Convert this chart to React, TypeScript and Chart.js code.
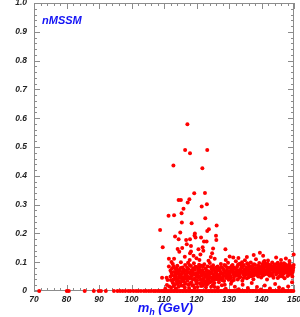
import React, { useEffect, useRef } from "react";
import { Chart, registerables } from "chart.js";

Chart.register(...registerables);

// Axis ranges and tick steps
const xRange: [number, number] = [70, 150];
const yRange: [number, number] = [0, 1];
const xMajorStep = 10;
const xMinorStep = 2;
const yMajorStep = 0.1;
const yMinorStep = 0.02;

const xTitleMain = "m";
const xTitleSub = "h";
const xTitleRest = " (GeV)";
const modelLabel = "nMSSM";

// Higgs masses of points that sit on the zero line
const zeroLineMass: number[] = [
  71.6, 80.1, 80.7, 85.6, 88.4, 89.9, 90.6, 92.1, 94.6, 95.7, 96.5, 97.3, 98.1, 99.0,
  99.7, 100.6, 101.4, 102.1, 102.9, 103.8, 104.5, 105.3, 106.0, 106.8, 107.4, 108.1,
  108.7, 109.3, 109.8, 110.2, 110.6, 111.1, 111.5, 112.0, 112.4, 112.9, 113.3, 113.8,
  114.2, 114.7, 115.1, 115.6, 116.0, 116.5, 116.9, 117.4, 117.8, 118.3, 118.7, 119.2,
  119.6, 120.1, 120.5, 121.0, 121.4, 121.9, 122.3, 122.8, 123.2, 123.7, 124.1, 124.6,
  125.0, 125.5, 125.9, 126.4, 126.8, 127.3, 127.7, 128.2, 128.6, 129.1, 129.5, 130.0,
  130.4, 130.9, 131.3, 131.8, 132.2, 132.7, 133.1, 133.6, 134.0, 134.5, 134.9, 135.4,
  135.8, 136.3, 136.7, 137.2, 137.6, 138.1, 138.5, 139.0, 139.4, 139.9, 140.3, 140.8,
  141.2, 141.7, 142.1, 142.6, 143.0, 143.5, 143.9, 144.4, 144.8, 145.3, 145.7, 146.2,
  146.6, 147.1, 147.5, 148.0, 148.4, 148.9, 149.3, 149.8,
];

// Dense cluster, light Higgs (m_h 110-126)
const lightCluster: [number, number][] = [
  [110.9, 0.021], [111.5, 0.085], [110.4, 0.008], [111.1, 0.038], [111.6, 0.016],
  [112.0, 0.071], [112.2, 0.012], [112.4, 0.055], [112.7, 0.094], [112.9, 0.040],
  [113.1, 0.066], [113.3, 0.022], [113.5, 0.078], [113.7, 0.050], [113.9, 0.033],
  [114.1, 0.088], [114.3, 0.060], [114.5, 0.015], [114.6, 0.045], [114.8, 0.072],
  [115.0, 0.028], [115.2, 0.100], [115.4, 0.058], [115.5, 0.038], [115.7, 0.082],
  [115.9, 0.018], [116.1, 0.064], [116.3, 0.047], [116.5, 0.090], [116.6, 0.025],
  [116.8, 0.070], [117.0, 0.053], [117.2, 0.036], [117.4, 0.098], [117.5, 0.076],
  [117.7, 0.010], [117.9, 0.044], [118.1, 0.061], [118.3, 0.087], [118.4, 0.030],
  [118.6, 0.052], [118.8, 0.068], [119.0, 0.020], [119.2, 0.096], [119.3, 0.041],
  [119.5, 0.074], [119.7, 0.057], [119.9, 0.033], [120.1, 0.083], [120.3, 0.014],
  [120.4, 0.063], [120.6, 0.048], [120.8, 0.091], [121.0, 0.027], [121.2, 0.071],
  [121.3, 0.039], [121.5, 0.088], [121.7, 0.055], [121.9, 0.018], [122.1, 0.066],
  [122.3, 0.045], [122.4, 0.093], [122.6, 0.031], [122.8, 0.078], [123.0, 0.058],
  [123.2, 0.022], [123.4, 0.085], [123.5, 0.049], [123.7, 0.069], [123.9, 0.036],
  [124.1, 0.097], [124.3, 0.060], [124.5, 0.015], [124.7, 0.075], [124.9, 0.043],
  [125.1, 0.089], [125.3, 0.052], [125.5, 0.028], [125.7, 0.067], [125.9, 0.081],
  [112.1, 0.038], [112.5, 0.079], [112.8, 0.027], [113.2, 0.052], [113.6, 0.009],
  [114.0, 0.041], [114.4, 0.067], [114.9, 0.051], [115.3, 0.019], [115.8, 0.046],
  [116.2, 0.031], [116.7, 0.058], [117.1, 0.081], [117.6, 0.049], [118.0, 0.026],
  [118.5, 0.072], [118.9, 0.040], [119.4, 0.011], [119.8, 0.062], [120.2, 0.037],
  [120.7, 0.077], [121.1, 0.050], [121.6, 0.029], [122.0, 0.085], [122.5, 0.060],
  [122.9, 0.013], [123.3, 0.040], [123.8, 0.054], [124.2, 0.030], [124.6, 0.064],
  [125.0, 0.021], [125.4, 0.073], [125.8, 0.046],
  [112.3, 0.064], [112.6, 0.031], [113.0, 0.085], [113.4, 0.044], [113.8, 0.069],
  [114.2, 0.024], [114.7, 0.057], [115.1, 0.080], [115.6, 0.035], [116.0, 0.075],
  [116.4, 0.012], [116.9, 0.043], [117.3, 0.063], [117.8, 0.090], [118.2, 0.047],
  [118.7, 0.019], [119.1, 0.059], [119.6, 0.084], [120.0, 0.026], [120.5, 0.055],
  [120.9, 0.066], [121.4, 0.017], [121.8, 0.073], [122.2, 0.036], [122.7, 0.050],
  [123.1, 0.070], [123.6, 0.027], [124.0, 0.062], [124.4, 0.083], [124.8, 0.035],
  [125.2, 0.058], [125.6, 0.014], [113.5, 0.058], [114.5, 0.035], [115.5, 0.066],
  [116.5, 0.054], [117.5, 0.022], [118.5, 0.056], [119.5, 0.043], [120.5, 0.073],
  [121.5, 0.061], [122.5, 0.024], [123.5, 0.064], [124.5, 0.047], [125.5, 0.040],
  [112.0, 0.050], [113.0, 0.017], [114.0, 0.077], [115.0, 0.048], [116.0, 0.039],
  [117.0, 0.070], [118.0, 0.065], [119.0, 0.078], [120.0, 0.050], [121.0, 0.083],
  [122.0, 0.042], [123.0, 0.032], [124.0, 0.045], [125.0, 0.079], [126.0, 0.048],
];

// Dense band, heavier Higgs (m_h 126-150)
const heavyCluster: [number, number][] = [
  [126.1, 0.062], [126.3, 0.041], [126.5, 0.085], [126.7, 0.055], [126.9, 0.030],
  [127.1, 0.072], [127.3, 0.048], [127.5, 0.094], [127.7, 0.060], [127.9, 0.037],
  [128.1, 0.079], [128.3, 0.052], [128.5, 0.067], [128.7, 0.022], [128.9, 0.088],
  [129.1, 0.045], [129.3, 0.070], [129.5, 0.058], [129.7, 0.098], [129.9, 0.039],
  [130.1, 0.064], [130.3, 0.081], [130.5, 0.050], [130.7, 0.073], [130.9, 0.034],
  [131.1, 0.090], [131.3, 0.059], [131.5, 0.046], [131.7, 0.077], [131.9, 0.066],
  [132.1, 0.103], [132.3, 0.053], [132.5, 0.084], [132.7, 0.040], [132.9, 0.071],
  [133.1, 0.061], [133.3, 0.095], [133.5, 0.049], [133.7, 0.079], [133.9, 0.068],
  [134.1, 0.036], [134.3, 0.087], [134.5, 0.057], [134.7, 0.074], [134.9, 0.107],
  [135.1, 0.063], [135.3, 0.082], [135.5, 0.044], [135.7, 0.070], [135.9, 0.091],
  [136.1, 0.058], [136.3, 0.076], [136.5, 0.066], [136.7, 0.099], [136.9, 0.051],
  [137.1, 0.085], [137.3, 0.072], [137.5, 0.041], [137.7, 0.093], [137.9, 0.062],
  [138.1, 0.080], [138.3, 0.110], [138.5, 0.069], [138.7, 0.055], [138.9, 0.088],
  [139.1, 0.075], [139.3, 0.097], [139.5, 0.060], [139.7, 0.083], [139.9, 0.047],
  [140.1, 0.071], [140.3, 0.092], [140.5, 0.065], [140.7, 0.079], [140.9, 0.104],
  [141.1, 0.058], [141.3, 0.086], [141.5, 0.073], [141.7, 0.040], [141.9, 0.095],
  [142.1, 0.067], [142.3, 0.081], [142.5, 0.053], [142.7, 0.090], [142.9, 0.074],
  [143.1, 0.062], [143.3, 0.099], [143.5, 0.078], [143.7, 0.046], [143.9, 0.087],
  [144.1, 0.069], [144.3, 0.083], [144.5, 0.057], [144.7, 0.094], [144.9, 0.072],
  [145.1, 0.064], [145.3, 0.088], [145.5, 0.050], [145.7, 0.077], [145.9, 0.091],
  [146.1, 0.066], [146.3, 0.080], [146.5, 0.059], [146.7, 0.085], [146.9, 0.071],
  [147.1, 0.044], [147.3, 0.093], [147.5, 0.075], [147.7, 0.063], [147.9, 0.082],
  [148.1, 0.068], [148.3, 0.089], [148.5, 0.056], [148.7, 0.077], [148.9, 0.070],
  [149.1, 0.086], [149.3, 0.061], [149.5, 0.079], [149.7, 0.073], [149.9, 0.090],
  [126.4, 0.071], [126.8, 0.049], [127.2, 0.058], [127.6, 0.083], [128.0, 0.044],
  [128.4, 0.074], [128.8, 0.063], [129.2, 0.053], [129.6, 0.080], [130.0, 0.069],
  [130.4, 0.043], [130.8, 0.087], [131.2, 0.068], [131.6, 0.055], [132.0, 0.078],
  [132.4, 0.065], [132.8, 0.092], [133.2, 0.047], [133.6, 0.070], [134.0, 0.082],
  [134.4, 0.064], [134.8, 0.052], [135.2, 0.075], [135.6, 0.096], [136.0, 0.069],
  [136.4, 0.086], [136.8, 0.061], [137.2, 0.077], [137.6, 0.054], [138.0, 0.091],
  [138.4, 0.066], [138.8, 0.078], [139.2, 0.084], [139.6, 0.070], [140.0, 0.059],
  [140.4, 0.086], [140.8, 0.072], [141.2, 0.095], [141.6, 0.063], [142.0, 0.078],
  [142.4, 0.069], [142.8, 0.084], [143.2, 0.056], [143.6, 0.074], [144.0, 0.092],
  [144.4, 0.076], [144.8, 0.063], [145.2, 0.081], [145.6, 0.069], [146.0, 0.095],
  [146.4, 0.073], [146.8, 0.061], [147.2, 0.079], [147.6, 0.087], [148.0, 0.073],
  [148.4, 0.065], [148.8, 0.083], [149.2, 0.072], [149.6, 0.066],
  [126.6, 0.012], [127.8, 0.020], [129.0, 0.008], [130.6, 0.025], [131.8, 0.015],
  [133.0, 0.006], [134.2, 0.022], [135.8, 0.010], [137.0, 0.028], [138.6, 0.014],
  [139.8, 0.005], [141.0, 0.019], [142.6, 0.009], [144.2, 0.024], [145.4, 0.012],
  [146.6, 0.007], [148.2, 0.016], [149.4, 0.030],
  [126.2, 0.052], [126.9, 0.078], [127.4, 0.066], [128.2, 0.060], [128.6, 0.090],
  [129.4, 0.082], [129.8, 0.062], [130.2, 0.056], [130.6, 0.066], [131.0, 0.076],
  [131.4, 0.082], [132.2, 0.058], [132.6, 0.072], [133.4, 0.060], [133.8, 0.088],
  [134.6, 0.090], [135.0, 0.066], [135.4, 0.058], [136.2, 0.080], [136.6, 0.052],
  [137.4, 0.090], [137.8, 0.070], [138.2, 0.058], [139.0, 0.064], [139.4, 0.080],
  [140.2, 0.076], [140.6, 0.100], [141.4, 0.066], [141.8, 0.082], [142.2, 0.090],
  [142.9, 0.062], [143.4, 0.086], [143.8, 0.066], [144.6, 0.080], [145.0, 0.098],
  [145.8, 0.060], [146.2, 0.086], [146.9, 0.096], [147.4, 0.068], [147.8, 0.072],
  [148.6, 0.094], [149.0, 0.078], [149.8, 0.082], [127.0, 0.040], [128.5, 0.035],
  [130.0, 0.048], [131.5, 0.038], [133.0, 0.055], [134.5, 0.045], [136.0, 0.048],
  [137.5, 0.062], [139.0, 0.050], [140.5, 0.054], [142.0, 0.058], [143.5, 0.052],
  [145.0, 0.045], [146.5, 0.050], [148.0, 0.052], [149.5, 0.050], [129.0, 0.108],
  [134.0, 0.100], [142.0, 0.106], [146.0, 0.108], [148.6, 0.104],
];

// Scattered points above the bulk
const scatteredPoints: [number, number][] = [
  [117.2, 0.579], [116.5, 0.490], [118.0, 0.478], [123.3, 0.490], [112.9, 0.436],
  [121.8, 0.426], [119.3, 0.339], [122.6, 0.340], [114.5, 0.316], [115.2, 0.316],
  [117.3, 0.307], [117.8, 0.319], [123.2, 0.301], [121.6, 0.293], [116.0, 0.286],
  [115.4, 0.270], [111.4, 0.261], [113.1, 0.263], [122.7, 0.253], [115.5, 0.238],
  [126.2, 0.227], [108.8, 0.212], [123.8, 0.214], [123.3, 0.208], [115.0, 0.203],
  [113.4, 0.189], [114.5, 0.180], [119.4, 0.193], [119.7, 0.186], [118.0, 0.180],
  [121.4, 0.186], [122.3, 0.172], [123.1, 0.172], [126.0, 0.192], [126.1, 0.177],
  [109.6, 0.152], [115.6, 0.149], [118.3, 0.156], [120.6, 0.145], [121.9, 0.152],
  [125.1, 0.148], [118.3, 0.137], [122.1, 0.140], [128.9, 0.145], [139.5, 0.133],
  [149.9, 0.127], [111.5, 0.112], [113.1, 0.112], [109.4, 0.046], [110.8, 0.046],
  [116.8, 0.177], [118.5, 0.235], [119.5, 0.200], [118.0, 0.131], [120.0, 0.114],
  [114.7, 0.136], [117.9, 0.108], [120.9, 0.108], [119.1, 0.122], [124.4, 0.118],
  [121.2, 0.127], [116.4, 0.119], [123.7, 0.105], [125.6, 0.112], [112.3, 0.101],
  [114.2, 0.146], [117.0, 0.162], [124.8, 0.131], [131.3, 0.116], [135.5, 0.118],
  [140.5, 0.122], [132.9, 0.115], [144.5, 0.116], [137.6, 0.125], [147.5, 0.113],
  [130.2, 0.120],
];

const FONT = "'Liberation Sans', Arial, Helvetica, sans-serif";
const AXIS_COLOR = "#8c8c8c";
const TITLE_COLOR = "#1414f5";
const POINT_COLOR = "#ff0000";

const framePlugin = {
  id: "rootFrame",
  beforeDatasetsDraw(chart: any) {
    const { ctx, chartArea: a, scales } = chart;
    const xs = scales.x;
    const ys = scales.y;
    ctx.save();
    ctx.strokeStyle = AXIS_COLOR;
    ctx.lineWidth = 1;
    ctx.beginPath();
    ctx.rect(a.left + 0.5, a.top + 0.5, a.right - a.left - 1, a.bottom - a.top - 1);
    ctx.stroke();
    const major = 6;
    const minor = 3;
    ctx.beginPath();
    const nx = Math.round((xRange[1] - xRange[0]) / xMinorStep);
    const perMajorX = Math.round(xMajorStep / xMinorStep);
    for (let i = 0; i <= nx; i++) {
      const v = xRange[0] + i * xMinorStep;
      const px = Math.round(xs.getPixelForValue(v)) + 0.5;
      const len = i % perMajorX === 0 ? major : minor;
      ctx.moveTo(px, a.bottom);
      ctx.lineTo(px, a.bottom - len);
      ctx.moveTo(px, a.top);
      ctx.lineTo(px, a.top + len);
    }
    const ny = Math.round((yRange[1] - yRange[0]) / yMinorStep);
    const perMajorY = Math.round(yMajorStep / yMinorStep);
    for (let i = 0; i <= ny; i++) {
      const v = yRange[0] + i * yMinorStep;
      const py = Math.round(ys.getPixelForValue(v)) + 0.5;
      const len = i % perMajorY === 0 ? major : minor;
      ctx.moveTo(a.left, py);
      ctx.lineTo(a.left + len, py);
      ctx.moveTo(a.right, py);
      ctx.lineTo(a.right - len, py);
    }
    ctx.stroke();
    ctx.restore();
  },
  afterDraw(chart: any) {
    const { ctx, chartArea: a } = chart;
    ctx.save();
    ctx.fillStyle = TITLE_COLOR;
    ctx.textBaseline = "alphabetic";
    ctx.textAlign = "left";
    ctx.font = `italic bold 11px ${FONT}`;
    ctx.fillText(modelLabel, a.left + 8, a.top + 21);
    const mainFont = `italic bold 13px ${FONT}`;
    const subFont = `italic bold 9px ${FONT}`;
    ctx.font = mainFont;
    const wMain = ctx.measureText(xTitleMain).width;
    const wRest = ctx.measureText(xTitleRest).width;
    ctx.font = subFont;
    const wSub = ctx.measureText(xTitleSub).width;
    const total = wMain + wSub + wRest;
    const xEnd = a.right - 101;
    let x = xEnd - total;
    const base = a.bottom + 21;
    ctx.font = mainFont;
    ctx.fillText(xTitleMain, x, base);
    x += wMain;
    ctx.font = subFont;
    ctx.fillText(xTitleSub, x, base + 3);
    x += wSub;
    ctx.font = mainFont;
    ctx.fillText(xTitleRest, x, base);
    ctx.restore();
  },
};

const toPoints = (pairs: [number, number][]) => pairs.map(([x, y]) => ({ x, y }));

export default function App() {
  const ref = useRef<HTMLCanvasElement | null>(null);
  useEffect(() => {
    document.body.style.margin = "0";
    const canvas = ref.current;
    if (!canvas) return;
    const pointStyle = {
      pointRadius: 2,
      pointHoverRadius: 2,
      pointBackgroundColor: POINT_COLOR,
      pointBorderWidth: 0,
      borderColor: POINT_COLOR,
      backgroundColor: POINT_COLOR,
      showLine: false,
      clip: false as any,
    };
    const chart = new Chart(canvas, {
      type: "scatter",
      data: {
        datasets: [
          { label: "zero", data: zeroLineMass.map((m) => ({ x: m, y: 0 })), ...pointStyle },
          { label: "light", data: toPoints(lightCluster), ...pointStyle },
          { label: "heavy", data: toPoints(heavyCluster), ...pointStyle },
          { label: "scattered", data: toPoints(scatteredPoints), ...pointStyle },
        ],
      },
      options: {
        responsive: false,
        animation: false,
        events: [],
        layout: { padding: { left: 0, right: 6, top: 3, bottom: 0 } },
        plugins: { legend: { display: false }, tooltip: { enabled: false } },
        scales: {
          x: {
            type: "linear",
            min: xRange[0],
            max: xRange[1],
            grid: { display: false, drawTicks: false },
            border: { display: false },
            ticks: {
              stepSize: xMajorStep,
              padding: 4,
              color: "#222",
              maxRotation: 0,
              autoSkip: false,
              font: { family: FONT, size: 8.5, style: "italic", weight: "bold" },
            },
            afterFit: (s: any) => {
              s.height = 26;
              s.paddingLeft = 0;
              s.paddingRight = 0;
            },
          },
          y: {
            type: "linear",
            min: yRange[0],
            max: yRange[1],
            grid: { display: false, drawTicks: false },
            border: { display: false },
            ticks: {
              stepSize: yMajorStep,
              padding: 7,
              color: "#222",
              autoSkip: false,
              font: { family: FONT, size: 8.5, style: "italic", weight: "bold" },
            },
            afterFit: (s: any) => {
              s.width = 34;
              s.paddingTop = 0;
              s.paddingBottom = 0;
            },
          },
        },
      },
      plugins: [framePlugin],
    });
    return () => chart.destroy();
  }, []);
  return (
    <canvas
      ref={ref}
      width={300}
      height={317}
      style={{ position: "absolute", left: 0, top: 0, width: 300, height: 317 }}
    />
  );
}
